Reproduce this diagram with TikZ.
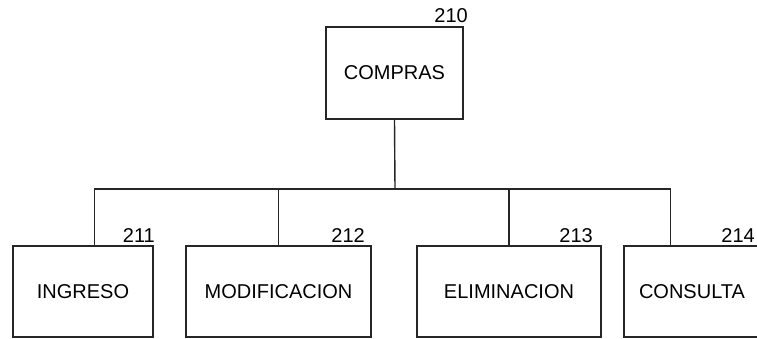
\documentclass[tikz,border=0pt]{standalone}
\usepackage{fontspec}
\setmainfont{Liberation Sans}
\tikzset{
  caja/.style={draw=black!85, line width=1.4pt, minimum width=#1, minimum height=91pt,
    inner sep=0pt, font=\fontsize{20}{24}\selectfont},
  num/.style={inner sep=0pt, anchor=base east, font=\fontsize{20}{24}\selectfont},
  linea/.style={draw=black!85, line width=1.4pt}
}
\begin{document}
\begin{tikzpicture}[x=1pt,y=-1pt]
\useasboundingbox (0,0) rectangle (757,339);
% modulo principal
\node[caja=137pt, minimum height=92pt] (compras) at (394.5,73) {COMPRAS};
\node[num] (n210) at (468,23) {210};
\coordinate (bus) at (395,189);
\draw[linea] (compras.south) -- (bus);
% submodulos
\node[caja=140pt] (ingreso) at (83,291.5) {INGRESO};
\node[caja=185pt] (modificacion) at (278.5,291.5) {MODIFICACION};
\node[caja=184pt] (eliminacion) at (509,291.5) {ELIMINACION};
\node[caja=136pt] (consulta) at (692,291.5) {CONSULTA};
\node[num] (n211) at (155,242) {211};
\node[num] (n212) at (365,242) {212};
\node[num] (n213) at (593,242) {213};
\node[num] (n214) at (755,242) {214};
\draw[linea] ([xshift=82pt]ingreso.north west) |- (bus);
\draw[linea] (modificacion.north) |- (bus);
\draw[linea] (eliminacion.north) |- (bus);
\draw[linea] ([xshift=47pt]consulta.north west) |- (bus);
\end{tikzpicture}
\end{document}
